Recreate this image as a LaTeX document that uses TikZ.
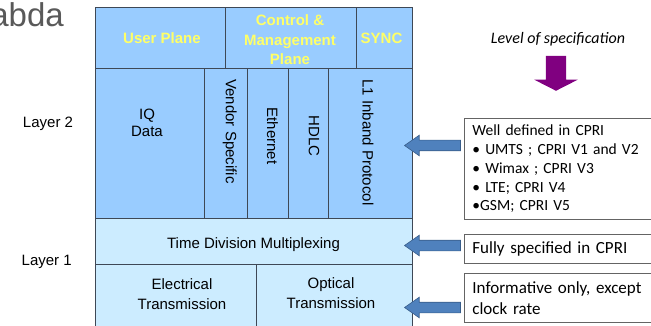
\documentclass[tikz,border=0pt]{standalone}
\usepackage{fontspec}
\setmainfont{Liberation Sans}
\newfontfamily\calfont{Carlito}
\usetikzlibrary{shapes.arrows}

\definecolor{planeblue}{RGB}{153,204,255}
\definecolor{lowblue}{RGB}{204,236,255}
\definecolor{gridline}{RGB}{62,72,86}
\definecolor{planeyellow}{RGB}{255,255,102}
\definecolor{arrowblue}{RGB}{79,129,189}
\definecolor{arrowedge}{RGB}{56,93,138}
\definecolor{specpurple}{RGB}{128,0,128}
\definecolor{titlegray}{RGB}{89,89,89}
\definecolor{boxedge}{RGB}{100,100,100}

\begin{document}
\begin{tikzpicture}[x=1pt,y=-1pt,
  cell/.style={draw=gridline, line width=0.8pt, anchor=north west, inner sep=0pt, outer sep=0pt},
  upper/.style={cell, fill=planeblue},
  lower/.style={cell, fill=lowblue},
  plane/.style={text=planeyellow, font=\fontsize{15}{19.6}\selectfont\bfseries, inner sep=0pt, align=center},
  lbl/.style={font=\fontsize{15}{20}\selectfont, inner sep=0pt, align=center},
  vlbl/.style={lbl, rotate=-90},
  spec/.style={draw=boxedge, line width=0.8pt, anchor=north west, inner xsep=8pt, inner ysep=2pt,
    text width=180pt, align=left, minimum width=196pt},
  blockarrow/.style={single arrow, fill=arrowblue, draw=arrowedge, line width=0.6pt, inner sep=5pt,
    minimum width=0pt, single arrow head extend=5pt, single arrow tip angle=70,
    shape border rotate=180, anchor=tip, minimum height=56pt}
]
\useasboundingbox (0,0) rectangle (651,326);

% heading fragment, running off the left edge
\node[font=\fontsize{33}{33}\selectfont, text=titlegray, anchor=base east, inner sep=0pt] (ttl) at (64,27) {abda};

% plane headers
\node[upper, minimum width=130pt, minimum height=61pt] (up)   at (95,7)  {};
\node[upper, minimum width=131pt, minimum height=61pt] (cm)   at (225,7) {};
\node[upper, minimum width=56pt,  minimum height=61pt] (sync) at (356,7) {};

% layer 2 columns
\node[upper, minimum width=109pt, minimum height=150pt] (iq)   at (95,68)  {};
\node[upper, minimum width=43pt,  minimum height=150pt] (vs)   at (204,68) {};
\node[upper, minimum width=41pt,  minimum height=150pt] (eth)  at (247,68) {};
\node[upper, minimum width=40pt,  minimum height=150pt] (hdlc) at (288,68) {};
\node[upper, minimum width=84pt,  minimum height=150pt] (lone) at (328,68) {};

% layer 1 rows
\node[lower, minimum width=317pt, minimum height=46pt] (tdm)  at (95,218)  {};
\node[lower, minimum width=161pt, minimum height=80pt] (elec) at (95,264)  {};
\node[lower, minimum width=156pt, minimum height=80pt] (opt)  at (256,264) {};

% header texts
\node[plane, anchor=base]  (tUser) at (162,44)   {User Plane};
\node[plane, anchor=north] (tCM)   at (290,14.7) {Control \&\\Management\\Plane};
\node[plane, anchor=base]  (tSync) at (381.5,44) {SYNC};

% layer 2 texts
\node[lbl, anchor=north, font=\fontsize{15}{17}\selectfont] (tIQ) at (147,109) {IQ\\Data};
\node[vlbl] (tVS)   at (229.7,131.5) {Vendor Specific};
\node[vlbl] (tEth)  at (272.5,136)   {Ethernet};
\node[vlbl] (tHDLC) at (314,136)     {HDLC};
\node[vlbl] (tL1)   at (368,142.5)   {L1 Inband Protocol};

% layer 1 texts
\node[lbl, anchor=base]  (tTDM)  at (253.5,248) {Time Division Multiplexing};
\node[lbl, anchor=north] (tElec) at (182,278)   {Electrical\\Transmission};
\node[lbl, anchor=north, font=\fontsize{15}{20.5}\selectfont] (tOpt) at (331,277) {Optical\\Transmission};

% layer names
\node[lbl, anchor=base] (lay2) at (48,127.4)   {Layer 2};
\node[lbl, anchor=base] (lay1) at (46.7,265.7) {Layer 1};

% specification side
\node[font=\calfont\itshape\fontsize{16}{19}\selectfont, anchor=base, inner sep=0pt] (lvl) at (558,44) {Level of specification};
\node[single arrow, fill=specpurple, draw=none, inner sep=10pt, minimum width=0pt,
      single arrow head extend=11.5pt, single arrow tip angle=126, shape border rotate=270,
      anchor=tip, minimum height=35pt] (lvlarrow) at (556,91) {};

\node[spec, minimum height=101pt, font=\calfont\fontsize{15.5}{18.75}\selectfont] (wd) at (464,118)
  {Well defined in CPRI\\• UMTS ; CPRI V1 and V2\\• Wimax ; CPRI V3\\• LTE; CPRI V4\\•GSM; CPRI V5};
\node[spec, minimum height=29pt, font=\calfont\fontsize{17}{20}\selectfont] (fs) at (464,234)
  {Fully specified in CPRI};
\node[spec, minimum height=49pt, font=\calfont\fontsize{17}{21}\selectfont] (inf) at (464,273)
  {Informative only, except\\clock rate};

% pointers from the notes to the stack
\node[blockarrow] (a1) at (404,145.5) {};
\node[blockarrow] (a2) at (404,245.5) {};
\node[blockarrow] (a3) at (404,307.5) {};
\end{tikzpicture}
\end{document}
